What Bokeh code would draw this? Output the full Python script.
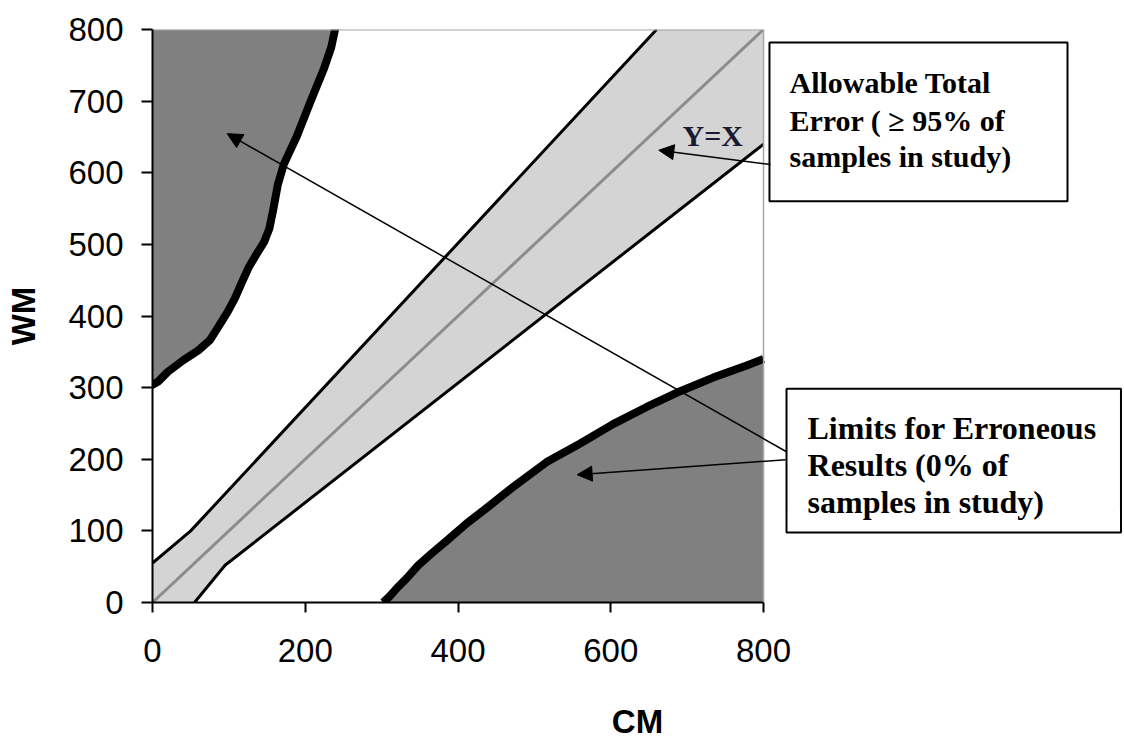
from bokeh.plotting import figure
from bokeh.models import Range1d, FixedTicker, Arrow, NormalHead, Label, BoxAnnotation
from bokeh.embed import file_html
from bokeh.resources import INLINE

# ---- data ----
x_ticks = [0, 200, 400, 600, 800]
y_ticks = [0, 100, 200, 300, 400, 500, 600, 700, 800]
XMAX = 800
YMAX = 800

identity_x = [0, 800]
identity_y = [0, 800]

# Allowable total error boundaries
ate_upper_x = [0, 50, 660]
ate_upper_y = [55, 100, 800]
ate_lower_x = [55, 95, 800]
ate_lower_y = [0, 52, 640]

# Limits for erroneous results (boundaries of dark zones)
ler_upper_x = [0, 8, 20, 40, 60, 75, 88, 98, 108, 117, 126, 136, 146, 153, 158, 164, 172, 189, 206, 224, 234, 239]
ler_upper_y = [304, 309, 322, 338, 352, 366, 388, 405, 425, 447, 468, 486, 503, 522, 548, 583, 612, 651, 697, 744, 775, 800]
ler_lower_x = [302, 310, 320, 333, 348, 365, 385, 412, 440, 473, 516, 560, 603, 647, 691, 734, 778, 800]
ler_lower_y = [0, 8, 20, 34, 52, 68, 86, 111, 134, 162, 196, 222, 249, 273, 295, 314, 331, 340]

box1_lines = ["Allowable Total", "Error ( \u2265 95% of", "samples in study)"]
box2_lines = ["Limits for Erroneous", "Results (0% of", "samples in study)"]

# ---- figure ----
p = figure(width=1122, height=742,
           x_range=Range1d(0, 1270), y_range=Range1d(0, 800),
           output_backend="svg", toolbar_location=None,
           min_border_left=152, min_border_right=0,
           min_border_top=29, min_border_bottom=139,
           outline_line_color=None,
           background_fill_color="white", border_fill_color="white")
p.xgrid.visible = False
p.ygrid.visible = False

for ax in (p.xaxis[0], p.yaxis[0]):
    ax.bounds = (0, 800)
    ax.axis_line_color = "black"
    ax.axis_line_width = 2
    ax.major_tick_line_color = "black"
    ax.major_tick_line_width = 2
    ax.major_tick_in = 0
    ax.minor_tick_line_color = None
    ax.major_label_text_font = "Liberation Sans"
    ax.major_label_text_font_size = "33px"
    ax.major_label_text_color = "black"
    ax.axis_label_text_font = "Liberation Sans"
    ax.axis_label_text_font_style = "bold"
    ax.axis_label_text_font_size = "33px"
    ax.axis_label_text_color = "black"

p.xaxis.ticker = FixedTicker(ticks=x_ticks)
p.yaxis.ticker = FixedTicker(ticks=y_ticks)
p.xaxis.axis_label = "CM"
p.yaxis.axis_label = "WM"
p.xaxis.major_tick_out = 10
p.yaxis.major_tick_out = 11
p.xaxis.major_label_standoff = 26
p.yaxis.major_label_standoff = 18
p.xaxis.axis_label_standoff = 38
p.yaxis.axis_label_standoff = 23

# allowable total error band
band_x = ate_upper_x + [XMAX] + ate_lower_x[::-1] + [0]
band_y = ate_upper_y + [YMAX] + ate_lower_y[::-1] + [0]
p.patch(band_x, band_y, fill_color="#d4d4d4", line_color=None)
p.line(identity_x, identity_y, line_color="#8c8c8c", line_width=3)
p.line(ate_upper_x, ate_upper_y, line_color="black", line_width=3)
p.line(ate_lower_x, ate_lower_y, line_color="black", line_width=3)

# erroneous zones
p.patch(ler_upper_x + [0], ler_upper_y + [YMAX], fill_color="#808080", line_color=None)
p.patch(ler_lower_x + [XMAX], ler_lower_y + [0], fill_color="#808080", line_color=None)
p.line(ler_upper_x, ler_upper_y, line_color="black", line_width=8, line_join="round", line_cap="round")
p.line(ler_lower_x, ler_lower_y, line_color="black", line_width=8, line_join="round")

# top and right borders of the plot square
p.line([0, XMAX], [YMAX, YMAX], line_color="#a6a6a6", line_width=2)
p.line([XMAX, XMAX], [0, YMAX], line_color="#a6a6a6", line_width=1.5)

p.add_layout(Label(x=693.9, y=652.3, text="Y=X", text_font="Liberation Serif",
                   text_font_style="bold", text_font_size="30px", text_color="#1a1a33",
                   text_baseline="alphabetic", text_align="left"))

# annotation boxes
p.add_layout(BoxAnnotation(left=807.8, right=1198, top=781.9, bottom=560.3,
                           fill_color="white", fill_alpha=1.0,
                           line_color="black", line_width=2, line_alpha=1.0))
p.add_layout(BoxAnnotation(left=830.1, right=1268, top=298.3, bottom=97.6,
                           fill_color="white", fill_alpha=1.0,
                           line_color="black", line_width=2, line_alpha=1.0))

for txt, yb in zip(box1_lines, [726.1, 673.2, 623.0]):
    p.add_layout(Label(x=834.0, y=yb, text=txt, text_font="Liberation Serif",
                       text_font_style="bold", text_font_size="30px", text_color="black",
                       text_baseline="alphabetic", text_align="left"))
for txt, yb in zip(box2_lines, [243.9, 192.3, 140.8]):
    p.add_layout(Label(x=857.6, y=yb, text=txt, text_font="Liberation Serif",
                       text_font_style="bold", text_font_size="32px", text_color="black",
                       text_baseline="alphabetic", text_align="left"))

# arrows
def head():
    return NormalHead(size=15, fill_color="black", line_color="black", line_width=1)

p.add_layout(Arrow(end=head(), x_start=830.1, y_start=210.5, x_end=97.8, y_end=654.6,
                   line_color="black", line_width=1.5))
p.add_layout(Arrow(end=head(), x_start=828.8, y_start=199.3, x_end=556.0, y_end=178.4,
                   line_color="black", line_width=1.5))
p.add_layout(Arrow(end=head(), x_start=809.1, y_start=611.4, x_end=662.9, y_end=631.4,
                   line_color="black", line_width=1.5))

open("out.html", "w").write(file_html(p, INLINE))
